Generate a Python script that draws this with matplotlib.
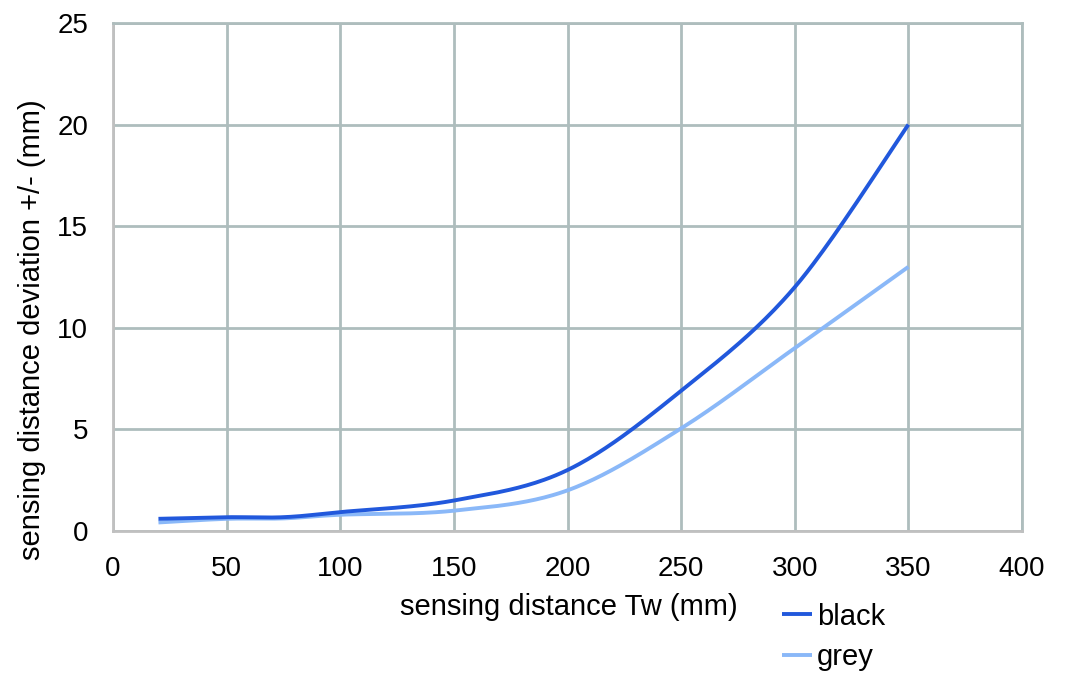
import numpy as np
import matplotlib.pyplot as plt

plt.rcParams['font.family'] = ['Liberation Sans', 'DejaVu Sans']

# sensing distance Tw (mm)
distance = [20, 50, 75, 100, 150, 200, 250, 300, 350]
# deviation +/- (mm)
black = [0.6, 0.68, 0.68, 0.93, 1.5, 3.0, 6.9, 12.0, 20.0]
grey = [0.42, 0.6, 0.62, 0.8, 1.0, 2.0, 5.05, 9.0, 13.0]


def smooth(x, y, n=40):
  # Catmull-Rom style smoothing like the spreadsheet "smoothed line"
  x = np.asarray(x, float)
  y = np.asarray(y, float)
  px = np.concatenate([[x[0]], x, [x[-1]]])
  py = np.concatenate([[y[0]], y, [y[-1]]])
  xs, ys = [], []
  t = np.linspace(0, 1, n)
  for i in range(1, len(px) - 2):
    p0x, p1x, p2x, p3x = px[i - 1], px[i], px[i + 1], px[i + 2]
    p0y, p1y, p2y, p3y = py[i - 1], py[i], py[i + 1], py[i + 2]
    c1x = p1x + (p2x - p0x) / 6
    c1y = p1y + (p2y - p0y) / 6
    c2x = p2x - (p3x - p1x) / 6
    c2y = p2y - (p3y - p1y) / 6
    bx = (1 - t)**3 * p1x + 3 * (1 - t)**2 * t * c1x + 3 * (1 - t) * t**2 * c2x + t**3 * p2x
    by = (1 - t)**3 * p1y + 3 * (1 - t)**2 * t * c1y + 3 * (1 - t) * t**2 * c2y + t**3 * p2y
    xs.extend(bx)
    ys.extend(by)
  return xs, ys


fig = plt.figure(figsize=(10.75, 6.99), dpi=100)
ax = fig.add_axes([113 / 1075, 1 - 531 / 699, 909 / 1075, 508 / 699])

grid_col = '#aebdbd'
bx, by = smooth(distance, black)
gx, gy = smooth(distance, grey)
ax.plot(gx, gy, color='#8ab8f8', lw=2.8, label='grey', solid_capstyle='butt', zorder=3)
ax.plot(bx, by, color='#2158dc', lw=2.8, label='black', solid_capstyle='butt', zorder=4)

ax.set_xlim(0, 400)
ax.set_ylim(0, 25)
ax.set_xticks(range(0, 401, 50))
ax.set_yticks(range(0, 26, 5))
ax.grid(True, color=grid_col, lw=2)
ax.set_axisbelow(True)
for s in ['top', 'right']:
  ax.spines[s].set_color(grid_col)
  ax.spines[s].set_linewidth(2)
for s in ['left', 'bottom']:
  ax.spines[s].set_color('#c0c0c0')
  ax.spines[s].set_linewidth(2)
ax.tick_params(length=0, labelsize=20)
ax.tick_params(axis='x', pad=18)
ax.tick_params(axis='y', pad=18)

ax.set_xlabel('sensing distance Tw (mm)', fontsize=21)
ax.set_ylabel('sensing distance deviation +/- (mm)', fontsize=21)
ax.xaxis.set_label_coords((569 - 113) / 909, (531 - 593) / 508)
ax.yaxis.set_label_coords((46 - 113) / 909, (531 - 330) / 508)

h, l = ax.get_legend_handles_labels()
fig.legend(h[::-1], l[::-1], loc='upper left', bbox_to_anchor=(770 / 1075, 1 - 591 / 699),
           frameon=False, fontsize=21, handlelength=1.05, handletextpad=0.15,
           labelspacing=0.42, borderaxespad=0)

fig.savefig('out.png', dpi=100)
